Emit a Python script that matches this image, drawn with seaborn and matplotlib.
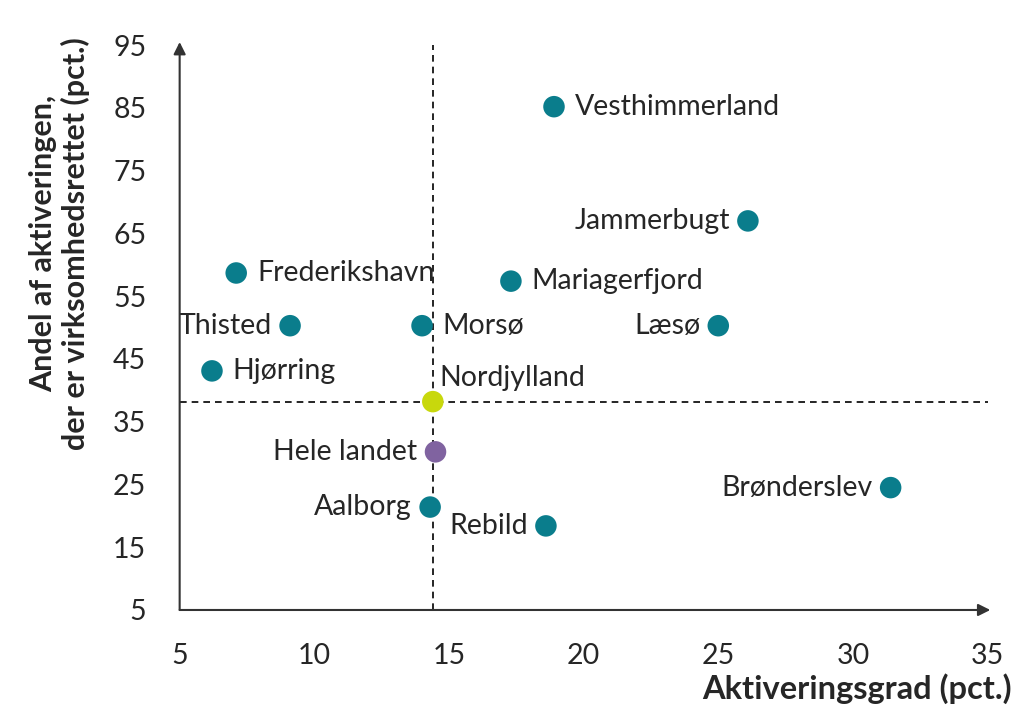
import pandas as pd
import seaborn as sns
import matplotlib.pyplot as plt

sns.set_theme(style='white')
plt.rcParams['font.family'] = ['Lato', 'DejaVu Sans']

kommuner = ['Vesthimmerland', 'Jammerbugt', 'Frederikshavn', 'Mariagerfjord', 'Thisted',
            'Morsø', 'Læsø', 'Hjørring', 'Nordjylland', 'Hele landet', 'Aalborg',
            'Rebild', 'Brønderslev']
aktiveringsgrad = [18.9, 26.1, 7.1, 17.3, 9.1, 14.0, 25.0, 6.2, 14.4, 14.5, 14.3, 18.6, 31.4]
virksomhed = [85.2, 67.0, 58.7, 57.4, 50.3, 50.3, 50.3, 43.1, 38.2, 30.2, 21.4, 18.4, 24.5]
gruppe = ['kommune'] * 8 + ['region', 'land'] + ['kommune'] * 3
# label placement: side of the point
side = ['r', 'l', 'r', 'r', 'l', 'r', 'l', 'r', 'ur', 'l', 'l', 'l', 'l']

df = pd.DataFrame({'x': aktiveringsgrad, 'y': virksomhed, 'navn': kommuner, 'gruppe': gruppe})
palette = {'kommune': '#0a7d8c', 'region': '#c8d80c', 'land': '#8063a0'}

fig = plt.figure(figsize=(10.15, 7.06), dpi=100)
ax = fig.add_axes([0.177, 0.136, 0.796, 0.800])

# reference lines for Nordjylland
nj_x, nj_y = 14.4, 38.2
ax.axvline(nj_x, color='black', lw=1.2, ls=(0, (4, 3)), zorder=1)
ax.axhline(nj_y, color='black', lw=1.2, ls=(0, (4, 3)), zorder=1)

sns.scatterplot(data=df, x='x', y='y', hue='gruppe', palette=palette, s=240,
                edgecolor='none', legend=False, ax=ax, zorder=3)

fs = 20.5
for i, r in df.iterrows():
    s = side[i]
    if s == 'r':
        ax.annotate(r['navn'], (r['x'], r['y']), xytext=(15, 0), textcoords='offset points',
                    ha='left', va='center', fontsize=fs)
    elif s == 'l':
        ax.annotate(r['navn'], (r['x'], r['y']), xytext=(-13, 0), textcoords='offset points',
                    ha='right', va='center', fontsize=fs)
    else:
        ax.annotate(r['navn'], (r['x'], r['y']), xytext=(5, 8), textcoords='offset points',
                    ha='left', va='bottom', fontsize=fs)

ax.set_xlim(5, 35)
ax.set_ylim(5, 95)
ax.set_xticks(range(5, 36, 5))
ax.set_yticks(range(5, 96, 10))
ax.tick_params(axis='x', labelsize=fs, length=0, pad=24)
ax.tick_params(axis='y', labelsize=fs, length=0, pad=24)
for sp in ax.spines.values():
    sp.set_visible(False)

# axis arrows
ax.annotate('', xy=(35.1, 5), xytext=(5, 5), xycoords='data',
            arrowprops=dict(arrowstyle='-|>', color='#333333', lw=1.5, mutation_scale=18,
                            shrinkA=0, shrinkB=0), annotation_clip=False)
ax.annotate('', xy=(5, 95.5), xytext=(5, 5), xycoords='data',
            arrowprops=dict(arrowstyle='-|>', color='#333333', lw=1.5, mutation_scale=18,
                            shrinkA=0, shrinkB=0), annotation_clip=False)

ax.set_xlabel('')
ax.set_ylabel('')
fig.text(0.997, 0.025, 'Aktiveringsgrad (pct.)', ha='right', va='center',
         fontsize=23.5, fontweight='bold')
fig.text(0.059, 0.655, 'Andel af aktiveringen,\nder er virksomhedsrettet (pct.)', rotation=90,
         ha='center', va='center', fontsize=22, fontweight='bold', linespacing=1.15)

fig.savefig('out.png', dpi=100)
